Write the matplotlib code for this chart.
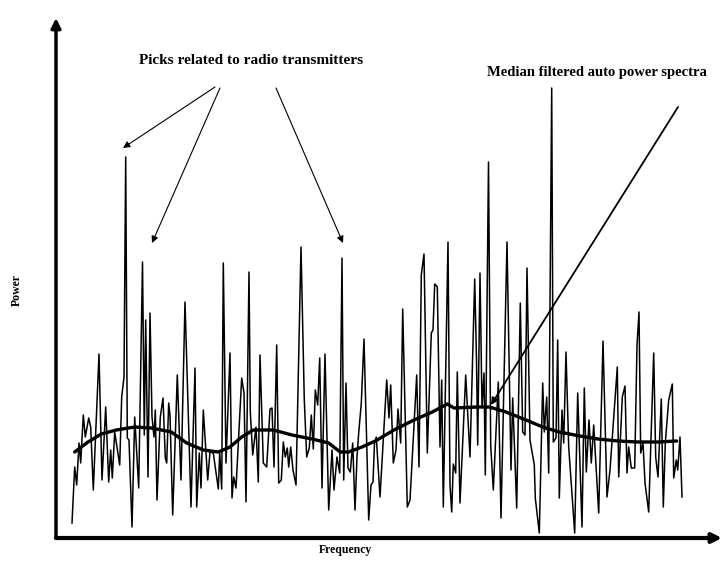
import numpy as np
import matplotlib
matplotlib.use("Agg")
from matplotlib import pyplot as plt

# raw auto power spectrum: (frequency bin, power), arbitrary units
spectrum = [
    (16, 15), (18.7, 71), (20.7, 53), (23, 95), (24.7, 75), (27.3, 123), (29.3, 101),
    (32.7, 120), (34.7, 111), (37.3, 48), (43, 184), (46, 58), (49.7, 131), (52.7, 56),
    (54.7, 88), (56.3, 60), (58.7, 106), (61, 91), (63.7, 73), (65.7, 141), (68, 161),
    (69.7, 381), (71.3, 100), (73, 98), (76, 11), (78.7, 121), (82.7, 50), (86.5, 276),
    (88.3, 103), (89.7, 218), (92, 61), (94, 225), (96, 121), (98, 101), (99.3, 128),
    (101, 38), (104.3, 121), (107, 140), (109.3, 80), (110.7, 75), (112.7, 135),
    (114, 123), (116.7, 23), (121.3, 163), (125, 58), (129, 236), (135, 31), (139, 170),
    (140.7, 31), (143.3, 85), (145, 50), (147.3, 128), (151.7, 58), (154, 86),
    (157.3, 85), (162.3, 49), (163.7, 85), (165.7, 49), (167.3, 275), (170, 75),
    (174, 185), (176, 40), (177.7, 61), (180, 50), (182.3, 95), (185.7, 160), (188, 145),
    (190, 36), (193, 266), (194.3, 126), (196.7, 83), (200, 111), (202.3, 56), (204, 183),
    (207.3, 75), (210.7, 71), (214, 129), (216, 130), (218, 71), (220.7, 193), (222.7, 55),
    (225.3, 58), (227.3, 96), (229.3, 81), (231.3, 90), (232.7, 71), (234.7, 91), (237, 68),
    (240, 53), (245, 291), (248.3, 138), (250.7, 81), (253.3, 90), (255.3, 123),
    (257.3, 89), (259.3, 148), (261.7, 133), (263.7, 180), (266, 50), (269, 184),
    (272.7, 28), (276, 88), (278, 48), (281, 81), (283.7, 65), (286, 280), (287.7, 58),
    (290, 155), (292, 70), (294.3, 66), (296.7, 95), (299, 28), (301, 81), (302.7, 105),
    (305.3, 135), (308, 199), (312.7, 18), (315, 53), (317, 56), (318.5, 95), (320.3, 101),
    (324, 41), (330.7, 158), (333, 120), (334.7, 153), (337.3, 75), (340, 88), (342, 129),
    (344.7, 95), (346.7, 229), (351.3, 31), (354, 38), (360.7, 163), (363, 71),
    (365.3, 263), (368, 284), (371.3, 85), (375.3, 205), (377, 208), (378.7, 254),
    (381.3, 251), (384, 91), (385.7, 158), (387.3, 31), (392, 296), (394, 53), (395.7, 26),
    (397.3, 74), (399.7, 65), (401.3, 166), (404, 35), (409.7, 163), (414, 81),
    (418.7, 259), (420.5, 178), (421.7, 93), (424, 265), (426, 131), (428, 165),
    (429.3, 63), (432.5, 376), (434.7, 93), (437.3, 48), (442.3, 156), (445, 20),
    (451, 296), (455, 68), (456.7, 140), (460.7, 30), (464.3, 235), (466.7, 106),
    (469, 103), (471, 270), (474, 98), (478.3, 73), (479.3, 40), (483.3, 5), (486.7, 155),
    (488.3, 106), (490.7, 141), (492.7, 65), (495.7, 450), (497.3, 96), (500, 100),
    (501.7, 198), (503.3, 40), (506, 128), (507.7, 95), (510, 186), (512.7, 91),
    (518.7, 5), (521.7, 145), (526, 11), (528.3, 150), (530.3, 66), (533, 118),
    (535.3, 75), (537.7, 113), (542.7, 25), (547, 197), (551, 41), (554, 68),
    (561.3, 171), (562.7, 61), (566.3, 141), (569, 152), (571, 65), (572.7, 91),
    (575.3, 70), (578.7, 70), (581, 193), (583, 226), (584.7, 85), (587, 95), (589, 55),
    (592.7, 26), (597.7, 185), (599.7, 81), (602, 61), (605.3, 139), (607.3, 31),
    (609.3, 95), (612.7, 138), (616.3, 154), (617.7, 60), (620.3, 78), (621.7, 68),
    (624, 101), (626, 41),
]
freq = [f for f, p in spectrum]
power = [p for f, p in spectrum]

# median filtered spectrum
med_freq = [18.7, 32.0, 45.3, 60.3, 78.7, 95.3, 115.3, 130.7, 147.3, 162.3, 174.0,
            185.7, 197.3, 217.3, 236.0, 256.0, 272.7, 277.7, 284.3, 292.7, 306.0,
            319.3, 338.0, 358.0, 376.3, 391.3, 398.0, 421.3, 433.3, 450.0, 470.0,
            486.7, 503.3, 524.0, 542.0, 562.0, 582.0, 602.0, 620.7]
med_power = [86, 96, 104, 108, 111, 110, 106, 95, 88, 86, 91,
             101, 108, 108, 103, 99, 95, 91, 86, 86, 91,
             97, 108, 118, 126, 134, 130, 131, 131, 126, 118,
             111, 106, 102, 99, 97, 96, 96, 97]

W, H = 723, 561
fig = plt.figure(figsize=(W / 100, H / 100), dpi=100)
ax = fig.add_axes([56 / W, (H - 538) / H, (722 - 56) / W, (538 - 18) / H])
ax.set_xlim(0, 666)
ax.set_ylim(0, 520)
ax.axis("off")

ax.plot(freq, power, color="black", lw=1.1)
ax.plot(med_freq, med_power, color="black", lw=2.4, solid_capstyle="round")

# axes drawn as arrows
ax.annotate("", xy=(1, 0), xytext=(0, 0), xycoords="axes fraction",
            arrowprops=dict(arrowstyle="-|>", lw=3, color="black", mutation_scale=14,
                            shrinkA=0, shrinkB=0))
ax.annotate("", xy=(0, 1), xytext=(0, 0), xycoords="axes fraction",
            arrowprops=dict(arrowstyle="-|>", lw=2.5, color="black", mutation_scale=14,
                            shrinkA=0, shrinkB=0))

font = dict(family="Liberation Serif", weight="bold", size=8.5)
big = dict(font, size=11)


def px(x, y):
    return (x, H - y)


fig.text(17 / W, 1 - 290 / H, "Power", rotation=90, ha="center", va="center", **font)
fig.text(345 / W, 1 - 550 / H, "Frequency", ha="center", va="center", **font)
fig.text(251 / W, 1 - 60 / H, "Picks related to radio transmitters",
         ha="center", va="center", **big)
fig.text(597 / W, 1 - 72 / H, "Median filtered auto power spectra",
         ha="center", va="center", **dict(big, size=10.5))

arrows = [((215, 87), (123, 148)),
          ((220, 88), (152, 243)),
          ((276, 88), (343, 243)),
          ((678, 107), (491, 405))]
for start, tip in arrows:
    ax.annotate("", xy=px(*tip), xytext=px(*start), xycoords="figure pixels",
                arrowprops=dict(arrowstyle="-|>", lw=0.8 if start[0] < 600 else 1.3,
                                color="black", mutation_scale=10,
                                shrinkA=0, shrinkB=0))

fig.savefig("out.png", dpi=100)
